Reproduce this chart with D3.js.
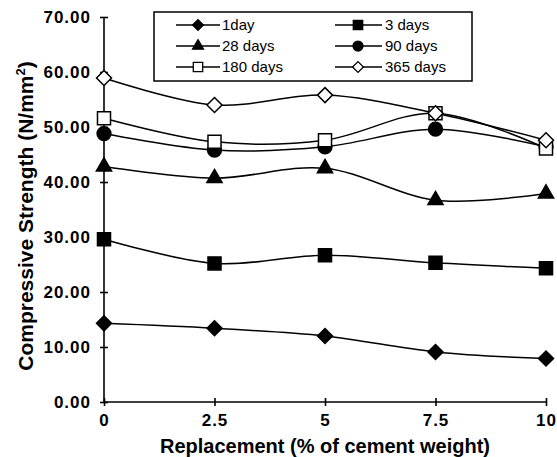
<!DOCTYPE html>
<html>
<head>
<meta charset="utf-8">
<script src="https://cdn.jsdelivr.net/npm/d3@7"></script>
<style>
  body { margin: 0; background: #fff; }
  svg { display: block; font-family: "Liberation Sans", Arial, sans-serif; }
</style>
</head>
<body>
<svg width="557" height="457"></svg>
<script>
// data
var replacement = [0, 2.5, 5, 7.5, 10];
var day1 = [14.3, 13.4, 12.0, 9.1, 7.9];
var day3 = [29.6, 25.2, 26.7, 25.3, 24.3];
var day28 = [42.8, 40.7, 42.5, 36.7, 37.9];
var day90 = [48.8, 45.8, 46.4, 49.6, 46.4];
var day180 = [51.6, 47.3, 47.6, 52.5, 46.1];
var day365 = [58.9, 54.0, 55.8, 52.5, 47.6];
var seriesNames = ['1day', '3 days', '28 days', '90 days', '180 days', '365 days'];
var yTicks = [0, 10, 20, 30, 40, 50, 60, 70];

var series = [
  {name: seriesNames[0], values: day1, marker: 'diamond', fill: '#000'},
  {name: seriesNames[1], values: day3, marker: 'square', fill: '#000'},
  {name: seriesNames[2], values: day28, marker: 'triangle', fill: '#000'},
  {name: seriesNames[3], values: day90, marker: 'circle', fill: '#000'},
  {name: seriesNames[4], values: day180, marker: 'square', fill: '#fff'},
  {name: seriesNames[5], values: day365, marker: 'diamond', fill: '#fff'}
];

var svg = d3.select('svg');

var x = d3.scaleLinear().domain([0, 10]).range([104, 546]);
var y = d3.scaleLinear().domain([0, 70]).range([402, 17]);

// marker paths, big = on the lines, small = legend
function markerPath(type, big) {
  var s = big ? 1 : 0.72;
  if (type === 'diamond') {
    var r = 7.5 * s;
    return 'M0,' + -r + 'L' + r + ',0L0,' + r + 'L' + -r + ',0Z';
  }
  if (type === 'square') return d3.symbol(d3.symbolSquare, 170 * s * s)();
  if (type === 'triangle') return d3.symbol(d3.symbolTriangle, 100 * s * s)();
  return d3.symbol(d3.symbolCircle, 150 * s * s)();
}

// axes
var yAxis = svg.append('g')
  .attr('transform', 'translate(' + x(0) + ',0)')
  .call(d3.axisLeft(y).tickValues(yTicks).tickFormat(d3.format('.2f')).tickSize(4).tickPadding(9));
yAxis.selectAll('.tick line').attr('x1', -4).attr('x2', 4);

var xAxis = svg.append('g')
  .attr('transform', 'translate(0,' + y(0) + ')')
  .call(d3.axisBottom(x).tickValues(replacement).tickFormat(d3.format('')).tickSize(4).tickPadding(8));
xAxis.selectAll('.tick line').attr('y1', -4).attr('y2', 4);

svg.selectAll('.domain').attr('d', null);
svg.append('line').attr('x1', x(0)).attr('x2', x(0)).attr('y1', y(70)).attr('y2', y(0))
  .attr('stroke', '#000').attr('stroke-width', 1.6);
svg.append('line').attr('x1', x(0)).attr('x2', x(10)).attr('y1', y(0)).attr('y2', y(0))
  .attr('stroke', '#000').attr('stroke-width', 1.6);

svg.selectAll('.tick line').attr('stroke', '#000').attr('stroke-width', 1.6);
svg.selectAll('.tick text')
  .attr('fill', '#000')
  .style('font-size', '17px')
  .style('font-weight', 'bold')
  .style('letter-spacing', '1px');

// axis titles
svg.append('text')
  .attr('x', 325)
  .attr('y', 453)
  .attr('text-anchor', 'middle')
  .style('font-size', '20px')
  .style('font-weight', 'bold')
  .text('Replacement (% of cement weight)');

var yt = svg.append('text')
  .attr('transform', 'translate(33,216) rotate(-90)')
  .attr('text-anchor', 'middle')
  .style('font-size', '21px')
  .style('font-weight', 'bold');
yt.append('tspan').text('Compressive Strength (N/mm');
yt.append('tspan').attr('dy', -8).style('font-size', '13px').text('2');
yt.append('tspan').attr('dy', 8).text(')');

// smoothed lines like the spreadsheet
var line = d3.line()
  .x(function(d, i) { return x(replacement[i]); })
  .y(function(d) { return y(d); })
  .curve(d3.curveCatmullRom.alpha(0));

series.forEach(function(s) {
  svg.append('path')
    .attr('d', line(s.values))
    .attr('fill', 'none')
    .attr('stroke', '#000')
    .attr('stroke-width', 1.5);
});

series.forEach(function(s) {
  svg.selectAll(null)
    .data(s.values)
    .enter()
    .append('path')
    .attr('transform', function(d, i) { return 'translate(' + x(replacement[i]) + ',' + y(d) + ')'; })
    .attr('d', markerPath(s.marker, true))
    .attr('fill', s.fill)
    .attr('stroke', '#000')
    .attr('stroke-width', 1.5);
});

// legend
svg.append('rect')
  .attr('x', 154).attr('y', 12).attr('width', 318).attr('height', 69)
  .attr('fill', '#fff').attr('stroke', '#000').attr('stroke-width', 1.5);

var legendRows = [25, 46, 67];
var legendCols = [{x1: 176, x2: 220, m: 198, t: 222}, {x1: 335, x2: 382, m: 358, t: 385}];

var legend = svg.selectAll('.legend')
  .data(series)
  .enter()
  .append('g')
  .attr('class', 'legend')
  .attr('transform', function(d, i) { return 'translate(0,' + legendRows[Math.floor(i / 2)] + ')'; });

legend.append('line')
  .attr('x1', function(d, i) { return legendCols[i % 2].x1; })
  .attr('x2', function(d, i) { return legendCols[i % 2].x2; })
  .attr('stroke', '#000').attr('stroke-width', 1.5);

legend.append('path')
  .attr('transform', function(d, i) { return 'translate(' + legendCols[i % 2].m + ',0)'; })
  .attr('d', function(d) { return markerPath(d.marker, false); })
  .attr('fill', function(d) { return d.fill; })
  .attr('stroke', '#000').attr('stroke-width', 1.3);

legend.append('text')
  .attr('x', function(d, i) { return legendCols[i % 2].t; })
  .attr('dy', '0.36em')
  .style('font-size', '15px')
  .text(function(d) { return d.name; });
</script>
</body>
</html>
